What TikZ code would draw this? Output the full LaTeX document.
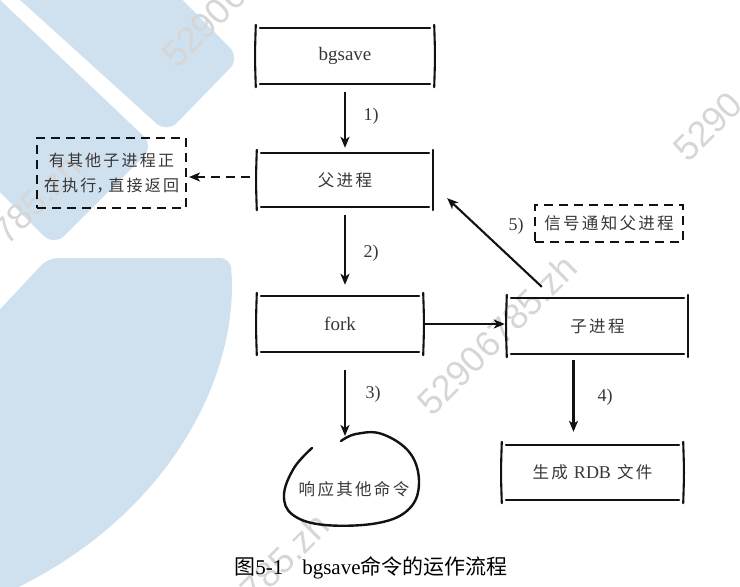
\documentclass[tikz,border=0pt]{standalone}
\usepackage{fontspec}
\setmainfont{Liberation Serif}
\newfontfamily\cjk[LetterSpace=14]{Noto Sans CJK SC}
\newfontfamily\cjkcap{Noto Sans CJK SC}
\newfontfamily\wmfont{Liberation Sans}
\usetikzlibrary{arrows.meta,calc}
\definecolor{wmblue}{RGB}{207,224,239}
\definecolor{wmgray}{RGB}{214,214,214}
\definecolor{ink}{RGB}{18,18,18}
\definecolor{txtc}{RGB}{55,55,55}
\newcommand\skbox[1]{%
  \draw[sk] ([xshift=3pt]#1.north west) -- ([xshift=-3pt]#1.north east);
  \draw[sk] ([xshift=3pt]#1.south west) -- ([xshift=-3pt]#1.south east);
  \draw[sk] ([shift={(-1pt,3pt)}]#1.north west) .. controls ([xshift=-2pt]#1.west) .. ([shift={(-1pt,-3pt)}]#1.south west);
  \draw[sk] ([shift={(1pt,3pt)}]#1.north east) .. controls ([xshift=2pt]#1.east) .. ([shift={(1pt,-3pt)}]#1.south east);
}
\begin{document}
\begin{tikzpicture}[x=1pt,y=-1pt,
  sk/.style={line width=2.1pt, line cap=round, draw=ink},
  arr/.style={line width=2.1pt, draw=ink, -{Stealth[length=11pt,width=9pt,inset=3pt]}},
  dasharr/.style={arr, dash pattern=on 9pt off 6pt},
  dbox/.style={draw=ink, line width=2.1pt, dash pattern=on 9pt off 6pt, inner sep=0pt},
  box/.style={inner sep=0pt, text=txtc},
  cjkt/.style={font=\cjk\fontsize{16.5}{26}\selectfont, text=txtc},
  cjks/.style={font=\cjk\fontsize{16}{25}\selectfont, text=txtc},
  latt/.style={font=\fontsize{19}{19}\selectfont, text=txtc},
  lbl/.style={font=\fontsize{18}{18}\selectfont, text=txtc},
  wm/.style={font=\wmfont\fontsize{36}{36}\selectfont, text=wmgray, rotate=45}]
\useasboundingbox (0,0) rectangle (740,587);
% background decoration
\fill[wmblue, rounded corners=14pt] (-2,-20) -- (163,-20) -- (240,58) -- (167,133) -- cycle;
\fill[wmblue, rounded corners=14pt] (-20,-19) -- (154,146) -- (54,246) -- (-20,172) -- cycle;
\fill[wmblue, rounded corners=10pt] (-10,320) -- (48,258) -- (230,258) -- (232,275)
  .. controls (232,400) and (150,530) .. (-10,600) -- cycle;
% watermark text (visible parts)
\node[wm, anchor=base west] (wm1) at (175,72) {52906};
\node[wm, anchor=base west] (wm2) at (686,166) {5290};
\node[wm, anchor=base west] (wm3) at (430,420) {52906785.zh};
\node[wm, anchor=base east] (wm4) at (86,168) {785.zh};
\node[wm, anchor=base east] (wm5) at (334,526) {785.zh};
% boxes
\node[box, minimum width=176, minimum height=56, latt] (bgsave) at (345,56) {bgsave};
\node[box, minimum width=174, minimum height=54, cjkt] (parent) at (345,180) {父进程};
\node[dbox, minimum width=149, minimum height=70, cjks, align=center] (busy) at (111.5,173) {有其他子进程正\\在执行\makebox[0.75em][l]{，}直接返回};
\node[box, minimum width=164, minimum height=56, latt] (fork) at (340,324) {fork};
\node[box, minimum width=179, minimum height=56, cjkt] (child) at (597.5,326) {子进程};
\node[dbox, minimum width=148, minimum height=37, cjkt] (notify) at (609,223.5) {信号通知父进程};
\node[box, minimum width=179, minimum height=55, cjkt] (rdb) at (592.5,472.5) {生成 {\fontspec{Liberation Serif}\fontsize{18}{18}\selectfont RDB} 文件};
\node[cjkt] (respond) at (354,489) {响应其他命令};
\skbox{bgsave}
\skbox{parent}
\skbox{fork}
\skbox{child}
\skbox{rdb}
% blob
\draw[sk, line width=2.4pt] plot[smooth, tension=0.65] coordinates {(312,448) (294,468) (284,495) (293,515) (325,525) (378,523) (409,509) (419,483) (410,453) (382,434) (356,434) (341,441)};
% connectors
\coordinate (pw) at ([yshift=3pt]parent.west);
\coordinate (blobtop) at (345,436);
\draw[arr, shorten <=8pt, shorten >=5pt] (bgsave.south) -- (bgsave.south |- parent.north);
\draw[dasharr, shorten <=8pt, shorten >=2pt] (pw) -- (pw -| busy.east);
\draw[arr, shorten <=8pt, shorten >=11pt] (parent.south) -- (parent.south |- fork.north);
\draw[arr, shorten <=3pt, shorten >=3pt] (fork.east) -- (fork.east -| child.west);
\draw[arr, shorten <=16pt] ([xshift=-44pt]child.north) -- ([shift={(15pt,9pt)}]parent.south east);
\draw[arr, shorten <=18pt] ([xshift=5pt]fork.south) -- (blobtop);
\draw[arr, shorten <=6pt, shorten >=13pt] ([xshift=-24pt]child.south) -- ([xshift=-24pt]child.south |- rdb.north);
% labels
\node[lbl] (l1) at (371,116) {1)};
\node[lbl] (l2) at (371,253) {2)};
\node[lbl] (l3) at (373,394) {3)};
\node[lbl] (l4) at (605,397) {4)};
\node[lbl] (l5) at (516,226) {5)};
% caption
\node[font=\fontsize{21}{21}\selectfont, text=black] (cap) at (371,568) {{\cjkcap 图}5-1\hspace{0.9em}bgsave{\cjkcap 命令的运作流程}};
\end{tikzpicture}
\end{document}
